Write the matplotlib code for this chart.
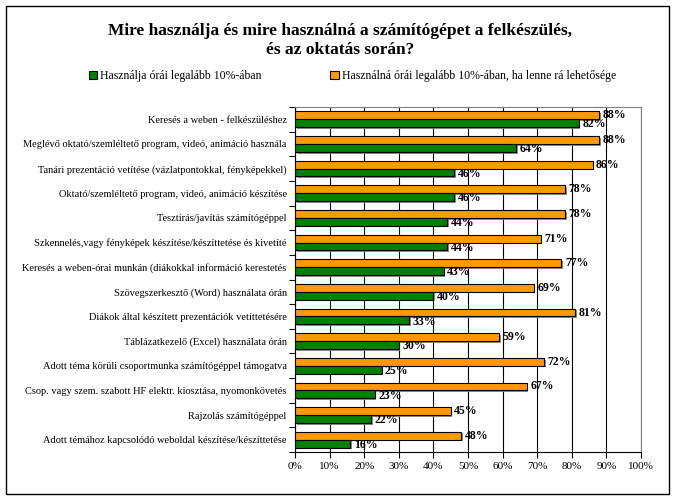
import numpy as np
import matplotlib.pyplot as plt
import matplotlib.patheffects as pe
from matplotlib.patches import Rectangle, Patch

plt.rcParams['font.family'] = ['Liberation Serif', 'DejaVu Serif']

categories = [
    "Keresés a weben - felkészüléshez",
    "Meglévő oktató/szemléltető program, videó, animáció használa",
    "Tanári prezentáció vetítése (vázlatpontokkal, fényképekkel)",
    "Oktató/szemléltető program, videó, animáció készítése",
    "Tesztírás/javítás számítógéppel",
    "Szkennelés,vagy fényképek készítése/készíttetése és kivetíté",
    "Keresés a weben-órai munkán (diákokkal információ kerestetés",
    "Szövegszerkesztő (Word) használata órán",
    "Diákok által készített prezentációk vetíttetésére",
    "Táblázatkezelő (Excel) használata órán",
    "Adott téma körüli csoportmunka számítógéppel támogatva",
    "Csop. vagy szem. szabott HF elektr. kiosztása, nyomonkövetés",
    "Rajzolás számítógéppel",
    "Adott témához kapcsolódó weboldal készítése/készíttetése",
]
hasznalja = [82, 64, 46, 46, 44, 44, 43, 40, 33, 30, 25, 23, 22, 16]
hasznalna = [88, 88, 86, 78, 78, 71, 77, 69, 81, 59, 72, 67, 45, 48]
series_names = ["Használja órái legalább 10%-ában",
                "Használná órái legalább 10%-ában, ha lenne rá lehetősége"]
green = "#008000"
orange = "#FF9900"

fig = plt.figure(figsize=(6.75, 5), dpi=100)
fig.patches.append(Rectangle((6/675, 1-494/500), 663/675, 488/500, transform=fig.transFigure,
                             fill=False, edgecolor="black", linewidth=1))

ax = fig.add_axes([295/675, 1-452/500, 346/675, 345/500])
n = len(categories)
y = np.arange(n)
h = 0.32
shadow = [pe.withSimplePatchShadow(offset=(1.2, -1.2), shadow_rgbFace="#808080", alpha=0.9)]
ax.barh(y - h/2, hasznalna, height=h, color=orange, edgecolor="black", linewidth=0.8,
        path_effects=shadow, zorder=3)
ax.barh(y + h/2, hasznalja, height=h, color=green, edgecolor="black", linewidth=0.8,
        path_effects=shadow, zorder=3)

for i in range(n):
    ax.text(hasznalna[i] + 1, y[i] - h/2, f"{hasznalna[i]}%", va="center", ha="left",
            fontsize=8.5, fontweight="bold", zorder=5)
    ax.text(hasznalja[i] + 1, y[i] + h/2 + 0.05, f"{hasznalja[i]}%", va="center", ha="left",
            fontsize=8.5, fontweight="bold", zorder=5)

ax.set_xlim(0, 100)
ax.set_ylim(n - 0.5, -0.5)
ax.set_xticks(np.arange(0, 101, 10))
ax.set_xticklabels([f"{v}%" for v in range(0, 101, 10)], fontsize=8)
ax.xaxis.grid(True, color="black", linewidth=0.8, zorder=0)
ax.set_axisbelow(True)

ax.set_yticks(y)
ax.set_yticklabels(categories, fontsize=7.5)
ax.tick_params(axis="y", length=0, pad=6)
ax.set_yticks(np.arange(-0.5, n, 1), minor=True)
ax.tick_params(axis="y", which="minor", length=4, direction="out", width=0.8)
ax.tick_params(axis="x", length=4, direction="out", width=0.8)

for s in ["top", "right"]:
    ax.spines[s].set_color("#808080")
for s in ["left", "bottom"]:
    ax.spines[s].set_color("black")

fig.text(340/675, 1-31/500, "Mire használja és mire használná a számítógépet a felkészülés,",
         ha="center", va="center", fontsize=12.5, fontweight="bold")
fig.text(340/675, 1-50/500, "és az oktatás során?",
         ha="center", va="center", fontsize=12.5, fontweight="bold")

handles = [Patch(facecolor=green, edgecolor="black", linewidth=0.8),
           Patch(facecolor=orange, edgecolor="black", linewidth=0.8)]
fig.legend(handles, series_names, loc="center left", bbox_to_anchor=(78/675, 1-76/500),
           ncol=2, frameon=False, fontsize=8.5, handlelength=0.7, handleheight=0.7,
           handletextpad=0.3, columnspacing=5.8)

fig.savefig("out.png", dpi=100)
